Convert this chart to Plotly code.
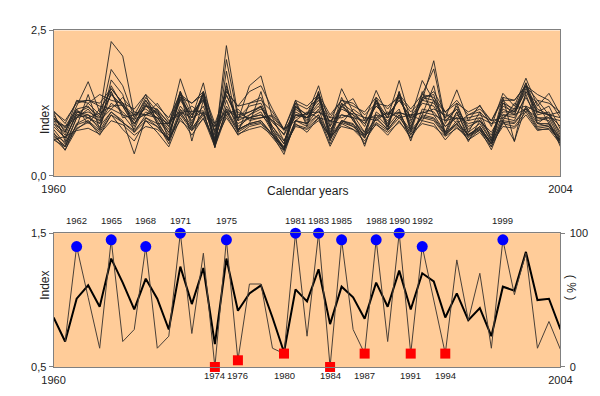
import plotly.graph_objects as go

years = list(range(1960, 2005))

# Top panel: individual tree index series
tree_01 = [0.80,0.55,1.00,1.25,1.05,2.31,2.06,1.05,1.15,1.00,0.70,1.35,1.00,1.40,0.55,2.24,1.05,1.10,1.20,0.80,0.45,1.15,1.00,1.35,0.70,1.20,1.05,0.75,1.25,0.90,1.40,0.85,1.30,1.98,0.95,1.15,0.75,0.90,0.60,1.20,1.10,1.55,1.05,1.10,0.70]
tree_02 = [0.95,0.70,1.15,1.20,0.95,1.83,1.55,1.00,1.30,1.05,0.80,1.45,1.05,1.35,0.60,2.00,1.00,1.20,1.25,0.85,0.55,1.20,1.05,1.40,0.75,1.25,1.10,0.85,1.30,1.00,1.35,0.90,1.40,1.84,0.90,1.20,0.80,1.00,0.65,1.25,1.15,1.60,1.10,1.20,0.80]
tree_03 = [1.05,0.75,1.20,1.62,1.10,1.50,1.25,0.95,1.35,1.10,0.85,1.67,1.10,1.30,0.75,1.40,0.95,1.05,1.15,0.95,0.70,1.10,1.00,1.25,0.85,1.15,1.05,0.90,1.20,1.00,1.64,0.95,1.25,1.20,0.85,1.05,0.90,0.95,0.75,1.10,1.10,1.45,1.10,1.05,0.85]
tree_04 = [0.90,0.65,1.05,1.10,1.00,1.40,1.20,0.90,1.20,1.05,0.75,1.30,1.00,1.60,0.70,1.50,0.95,1.55,1.72,1.00,0.60,1.05,1.05,1.55,0.85,1.50,1.10,0.90,1.20,1.05,1.30,1.00,1.64,1.30,1.00,1.15,0.85,0.95,0.70,1.15,1.05,1.50,1.15,1.05,0.75]
tree_05 = [0.75,0.44,0.90,1.00,0.85,1.10,0.95,0.38,1.00,0.90,0.55,1.10,0.80,1.10,0.50,1.15,0.80,0.90,0.95,0.70,0.37,0.95,0.90,1.05,0.55,0.95,0.90,0.55,1.00,0.80,1.05,0.65,1.05,1.00,0.75,0.90,0.62,0.80,0.45,0.95,0.60,1.20,0.90,0.90,0.55]
tree_06 = [0.95,0.85,1.00,1.05,0.95,1.15,1.05,0.98,1.05,1.00,0.90,1.10,1.00,1.10,0.85,1.15,1.00,1.00,1.05,0.95,0.80,1.05,1.00,1.10,0.95,1.05,1.00,0.95,1.05,1.00,1.10,1.00,1.10,1.05,0.95,1.00,0.95,1.00,0.90,1.05,1.05,1.15,1.00,1.00,0.95]
tree_07 = [1.12,0.90,1.28,1.30,1.25,1.50,1.25,1.15,1.40,1.20,1.00,1.40,1.25,1.40,0.85,1.45,1.20,1.25,1.30,1.10,0.80,1.30,1.20,1.40,1.05,1.30,1.20,1.10,1.35,1.15,1.40,1.15,1.40,1.35,1.10,1.25,1.10,1.20,0.95,1.35,1.30,1.55,1.30,1.25,1.10]
tree_08 = [0.62,0.50,0.82,0.92,0.75,1.05,0.92,0.75,0.95,0.85,0.60,1.05,0.78,1.05,0.55,1.10,0.75,0.88,0.92,0.70,0.45,0.88,0.82,1.00,0.65,0.92,0.85,0.70,0.92,0.78,1.00,0.75,1.00,0.95,0.70,0.88,0.70,0.80,0.55,0.92,0.90,1.15,0.82,0.85,0.60]
tree_09 = [0.70,0.50,1.00,1.15,0.90,1.55,1.20,0.85,1.30,0.95,0.60,1.45,0.90,1.45,0.48,1.80,0.80,1.05,1.20,0.75,0.45,1.20,0.95,1.40,0.60,1.20,1.00,0.65,1.30,0.85,1.45,0.75,1.35,1.30,0.70,1.10,0.65,0.85,0.50,1.30,1.10,1.60,0.95,1.00,0.60]
tree_10 = [0.85,0.65,1.05,1.00,0.90,1.25,1.10,0.90,1.10,1.00,0.75,1.20,0.95,1.20,0.65,1.20,0.90,1.00,1.05,0.85,0.60,1.05,1.00,1.20,0.80,1.05,1.00,0.51,1.10,0.95,1.15,0.60,1.15,1.10,0.85,1.00,0.59,0.95,0.60,1.05,1.00,1.35,1.00,0.95,0.50]
tree_11 = [1.10,0.95,1.25,1.30,1.20,1.15,1.35,1.10,1.05,1.25,0.95,1.05,1.20,1.05,0.85,1.05,1.15,0.95,1.00,1.05,0.80,0.95,1.10,1.00,0.95,0.90,1.15,1.00,0.95,1.10,1.00,1.05,0.95,1.30,1.10,0.90,1.05,1.10,0.90,0.95,1.25,1.10,1.30,1.05,1.10]
tree_12 = [0.65,0.45,0.80,0.95,0.70,1.05,0.80,0.60,0.95,0.75,0.50,1.00,0.70,1.00,0.50,1.05,0.70,0.85,0.90,0.65,0.42,0.90,0.75,1.00,0.51,0.90,0.80,0.60,0.90,0.70,0.95,0.65,0.95,0.90,0.62,0.85,0.62,0.75,0.50,0.90,0.85,1.10,0.80,0.80,0.55]
tree_13 = [1.00,0.85,1.15,0.90,1.15,1.45,1.00,1.05,1.40,0.90,0.90,1.45,0.60,1.30,0.52,1.60,0.75,1.25,1.35,0.80,0.55,1.30,0.85,1.45,0.70,1.35,0.95,0.75,1.30,0.80,1.45,0.80,1.45,1.05,0.75,1.25,0.75,1.10,0.62,1.35,0.59,1.45,1.25,0.90,0.65]
tree_14 = [1.00,0.78,1.08,1.18,1.02,1.40,1.20,1.02,1.22,1.08,0.85,1.32,1.05,1.32,0.78,1.38,1.00,1.10,1.18,0.92,0.72,1.18,1.05,1.30,0.92,1.20,1.33,0.95,1.47,1.05,1.30,1.02,1.30,1.25,1.00,1.48,0.95,1.22,0.85,1.42,1.20,1.68,1.20,1.42,1.05]
tree_15 = [0.62,0.68,0.78,0.82,0.72,0.95,0.88,0.70,0.85,0.80,0.65,0.95,0.78,0.98,0.60,1.00,0.72,0.80,0.85,0.70,0.50,0.85,0.80,0.95,0.68,0.85,0.80,0.68,0.88,0.75,0.92,0.72,0.90,0.85,0.68,0.82,0.68,0.78,0.55,0.85,0.82,1.05,0.78,0.82,0.60]
tree_16 = [1.10,0.60,1.10,1.05,0.80,1.45,1.05,0.80,1.25,0.90,0.65,1.40,0.85,1.40,0.55,1.55,0.85,1.00,1.10,0.75,0.50,1.25,0.90,1.45,0.65,1.25,0.95,0.70,1.35,0.85,1.40,0.80,1.35,1.40,0.75,1.10,0.70,0.85,0.55,1.25,1.05,1.55,0.90,1.05,0.65]
tree_17 = [0.90,0.75,1.30,1.25,1.40,1.30,1.25,0.90,1.20,1.15,0.90,1.35,1.25,1.45,0.90,1.45,1.20,1.45,1.55,1.15,0.80,1.25,1.15,1.35,1.00,1.30,1.25,1.05,1.25,1.20,1.35,1.10,1.30,1.45,1.10,1.30,1.05,1.15,0.95,1.30,1.30,1.55,1.40,1.30,1.00]
tree_18 = [0.72,0.58,0.85,1.40,0.80,1.65,1.40,0.75,1.05,1.15,0.62,1.15,0.85,1.45,0.62,1.30,0.80,0.90,1.45,0.70,0.45,0.95,0.90,1.15,0.62,0.95,0.85,0.65,1.05,0.85,1.10,0.70,1.05,1.55,0.70,0.95,0.70,0.85,0.55,1.00,0.95,1.40,0.90,0.85,0.58]
tree_19 = [0.98,0.82,1.12,1.00,1.08,1.20,1.22,1.05,1.05,1.12,0.92,1.12,1.10,1.12,0.90,1.10,1.10,0.98,1.00,1.02,0.78,1.00,1.08,1.10,1.00,1.00,1.08,1.00,1.00,1.08,1.08,1.05,1.08,1.15,1.05,0.98,1.00,1.05,0.95,1.00,1.15,1.20,1.10,1.05,1.00]
tree_20 = [0.68,0.52,0.88,0.95,0.78,1.10,0.92,0.78,1.00,0.85,0.62,1.08,0.82,1.08,0.55,1.12,0.78,0.90,0.95,0.72,0.48,0.95,0.85,1.05,0.68,0.95,0.88,0.72,0.98,0.80,1.05,0.78,1.02,0.98,0.72,0.90,0.72,0.82,0.58,0.95,0.92,1.18,0.85,0.88,0.62]

trees = [tree_01, tree_02, tree_03, tree_04, tree_05, tree_06, tree_07, tree_08, tree_09, tree_10,
         tree_11, tree_12, tree_13, tree_14, tree_15, tree_16, tree_17, tree_18, tree_19, tree_20]

# Bottom panel: mean index (thick) and % of trees with increase (thin)
mean_index = [0.87,0.69,1.01,1.11,0.95,1.31,1.13,0.93,1.16,1.01,0.78,1.25,0.97,1.24,0.67,1.31,0.92,1.05,1.11,0.87,0.61,1.08,0.99,1.23,0.82,1.10,1.02,0.86,1.13,0.95,1.22,0.93,1.20,1.14,0.87,1.05,0.85,0.94,0.73,1.10,1.07,1.36,1.00,1.01,0.78]
pct_increase = [None,19,90,52,14,95,19,28,90,14,23,100,25,85,0,95,5,62,62,14,10,100,23,100,0,95,28,10,95,19,100,10,90,50,10,80,35,70,14,95,54,85,14,34,13]

positive_years = [1962,1965,1968,1971,1975,1981,1983,1985,1988,1990,1992,1999]
negative_years = [1974,1976,1980,1984,1987,1991,1994]

pct_by_year = dict(zip(years, pct_increase))
pos_pct = [pct_by_year[y] for y in positive_years]
neg_pct = [pct_by_year[y] for y in negative_years]

FONT = "Liberation Sans, Arial, sans-serif"
TXT = "#222222"
LINEC = "#808080"
BG = "#FFCC99"

fig = go.Figure()
for t in trees:
    fig.add_trace(go.Scatter(x=years, y=t, mode="lines", xaxis="x", yaxis="y",
                             line=dict(color="#262626", width=0.9), showlegend=False, hoverinfo="skip"))

fig.add_trace(go.Scatter(x=years, y=pct_increase, mode="lines", xaxis="x2", yaxis="y3",
                         line=dict(color="#4a4038", width=1), showlegend=False))
fig.add_trace(go.Scatter(x=years, y=mean_index, mode="lines", xaxis="x2", yaxis="y2",
                         line=dict(color="#000000", width=2), showlegend=False))
fig.add_trace(go.Scatter(x=positive_years, y=pos_pct, mode="markers", xaxis="x2", yaxis="y3",
                         marker=dict(color="#0000FF", size=11, symbol="circle"),
                         cliponaxis=False, showlegend=False))
fig.add_trace(go.Scatter(x=negative_years, y=neg_pct, mode="markers", xaxis="x2", yaxis="y3",
                         marker=dict(color="#FF0000", size=10, symbol="square"),
                         cliponaxis=False, showlegend=False))

W, H = 600, 396
def xd(a, b):
    return [a / W, b / W]
def yd(top, bot):
    return [1 - bot / H, 1 - top / H]

axis_common = dict(showline=True, linecolor=LINEC, linewidth=1, mirror=True, showgrid=False,
                   zeroline=False, tickfont=dict(family=FONT, size=11, color=TXT))

fig.update_layout(
    width=W, height=H, margin=dict(l=0, r=0, t=0, b=0),
    paper_bgcolor="white", plot_bgcolor=BG,
    xaxis=dict(domain=xd(35, 563), anchor="y", range=[1960, 2004],
               tickvals=[1960, 2004], ticktext=["1960", "2004"], ticks="",
               ticklabelstandoff=3, **axis_common),
    yaxis=dict(domain=yd(17, 167), anchor="x", range=[0, 2.5],
               tickvals=[0, 2.5], ticktext=["0,0", "2,5"], ticks="outside", ticklen=4,
               tickcolor=LINEC, **axis_common),
    xaxis2=dict(domain=xd(35, 563), anchor="y2", range=[1960, 2004],
                tickvals=[1960, 2004], ticktext=["1960", "2004"], ticks="",
                ticklabelstandoff=3, **axis_common),
    yaxis2=dict(domain=yd(226, 364), anchor="x2", range=[0.5, 1.5],
                tickvals=[0.5, 1.5], ticktext=["0,5", "1,5"], ticks="outside", ticklen=4,
                tickcolor=LINEC, **axis_common),
    yaxis3=dict(overlaying="y2", anchor="x2", side="right", range=[0, 100],
                tickvals=[0, 100], ticktext=["0", "100"], ticks="outside", ticklen=4,
                tickcolor=LINEC, showgrid=False, zeroline=False, showline=False,
                ticklabelstandoff=2,
                tickfont=dict(family=FONT, size=11, color=TXT)),
)

ann = []
ann.append(dict(text="Calendar years", x=299 / W, y=1 - 183 / H, xref="paper", yref="paper",
                showarrow=False, font=dict(family=FONT, size=12, color=TXT)))
ann.append(dict(text="Index", x=16 / W, y=1 - 92 / H, xref="paper", yref="paper", textangle=-90,
                showarrow=False, font=dict(family=FONT, size=12, color=TXT)))
ann.append(dict(text="Index", x=16 / W, y=1 - 297 / H, xref="paper", yref="paper", textangle=-90,
                showarrow=False, font=dict(family=FONT, size=12, color=TXT)))
ann.append(dict(text="( % )", x=584 / W, y=1 - 297 / H, xref="paper", yref="paper", textangle=90,
                showarrow=False, font=dict(family=FONT, size=12, color=TXT)))
for yr in positive_years:
    ann.append(dict(text=str(yr), x=yr, xref="x2", y=1 - 213 / H, yref="paper", showarrow=False,
                    font=dict(family=FONT, size=9.5, color=TXT)))
for yr in negative_years:
    ann.append(dict(text=str(yr), x=yr, xref="x2", y=1 - 381 / H, yref="paper", showarrow=False,
                    font=dict(family=FONT, size=9.5, color=TXT)))
fig.update_layout(annotations=ann)

fig.write_html("out.html")
